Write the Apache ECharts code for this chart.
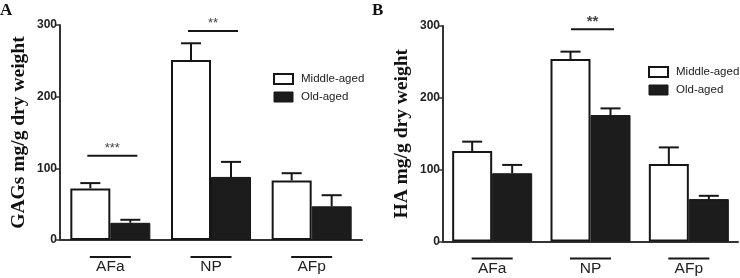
<!DOCTYPE html>
<html><head><meta charset="utf-8">
<script src="https://cdn.jsdelivr.net/npm/echarts@6/dist/echarts.min.js"></script>
<style>html,body{margin:0;padding:0;background:#fff}#c{width:740px;height:278px}</style>
</head><body><div id="c"></div>
<script>
const categories = ['AFa', 'NP', 'AFp'];
const seriesNames = ['Middle-aged', 'Old-aged'];
const yTicks = [0, 100, 200, 300];
// Panel A: GAGs
const gagMiddle = [72, 251, 83];
const gagMiddleSem = [7.4, 23.5, 10.2];
const gagOld = [24, 88, 47];
const gagOldSem = [4.2, 21, 15.5];
const gagSig = [[0, 117.5, '***'], [1, 291.5, '**']];
// Panel B: HA
const haMiddle = [126, 254, 108];
const haMiddleSem = [13, 10.3, 23];
const haOld = [95, 176, 59];
const haOldSem = [11.6, 9.3, 4.6];
const haSig = [[1, 295.5, '**']];

const ink = '#161616';
const chart = echarts.init(document.getElementById('c'));

function errRender(offset) {
  return function (params, api) {
    const b = api.coord([api.value(0), api.value(1)]);
    const t = api.coord([api.value(0), api.value(1) + api.value(2)]);
    const cx = b[0] + offset;
    return {
      type: 'group', children: [
        { type: 'line', shape: { x1: cx, y1: b[1], x2: cx, y2: t[1] }, style: { stroke: ink, lineWidth: 2 } },
        { type: 'line', shape: { x1: cx - 10, y1: t[1], x2: cx + 10, y2: t[1] }, style: { stroke: ink, lineWidth: 2 } }
      ]
    };
  };
}
function sigRender(half, font, gap) {
  return function (params, api) {
    const p = api.coord([api.value(0), api.value(1)]);
    const cx = p[0] + 2;
    return {
      type: 'group', children: [
        { type: 'line', shape: { x1: cx - half, y1: p[1], x2: cx + half, y2: p[1] }, style: { stroke: ink, lineWidth: 2 } },
        { type: 'text', style: { text: api.value(2), x: cx, y: p[1] - gap, align: 'center', verticalAlign: 'bottom', font: font, fill: '#444' } }
      ]
    };
  };
}
const errData = (m, s) => m.map((v, i) => [i, v, s[i]]);

function yAxis(idx, name, size) {
  return {
    gridIndex: idx, type: 'value', min: 0, max: 300, interval: 100,
    name: name, nameLocation: 'middle', nameRotate: 90, nameGap: 31,
    nameTextStyle: { fontFamily: 'Liberation Serif', fontWeight: 'bold', fontSize: size, color: '#111' },
    axisLine: { show: true, lineStyle: { color: '#333', width: 2 } },
    axisTick: { show: true, length: 4, lineStyle: { color: '#333', width: 1.5 } },
    axisLabel: { margin: 3, fontFamily: 'Liberation Sans', fontWeight: 'bold', fontSize: 12, color: '#222',
      formatter: v => yTicks.includes(v) ? String(v) : '' },
    splitLine: { show: false }
  };
}
function xAxis(idx) {
  return {
    gridIndex: idx, type: 'category', data: categories,
    axisLine: { lineStyle: { color: '#333', width: 2 } },
    axisTick: { show: false },
    axisLabel: {
      margin: 16, interval: 0,
      formatter: n => '{l| }\n{t|' + n + '}',
      rich: {
        l: { width: 41, height: 2, lineHeight: 2, backgroundColor: ink, fontSize: 1 },
        t: { fontFamily: 'Liberation Sans', fontSize: 15.5, color: '#222', lineHeight: 18, padding: [0, 0, 0, 0] }
      }
    }
  };
}
function bars(idx, mid, old) {
  return [
    { name: seriesNames[0], type: 'bar', xAxisIndex: idx, yAxisIndex: idx, data: mid, barWidth: 40, barGap: '0%',
      itemStyle: { color: '#fff', borderColor: ink, borderWidth: 2 } },
    { name: seriesNames[1], type: 'bar', xAxisIndex: idx, yAxisIndex: idx, data: old, barWidth: 40, barGap: '0%',
      itemStyle: { color: '#1c1c1c', borderColor: ink, borderWidth: 1 } }
  ];
}
function errs(idx, mid, midS, old, oldS) {
  return [
    { type: 'custom', xAxisIndex: idx, yAxisIndex: idx, renderItem: errRender(-20), data: errData(mid, midS), z: 3, silent: true },
    { type: 'custom', xAxisIndex: idx, yAxisIndex: idx, renderItem: errRender(20), data: errData(old, oldS), z: 3, silent: true }
  ];
}
const legendData = [
  { name: seriesNames[0], itemStyle: { color: '#fff', borderColor: ink, borderWidth: 2 } },
  { name: seriesNames[1], itemStyle: { color: '#1c1c1c', borderColor: ink, borderWidth: 1 } }
];
function legend(left, top, fs) {
  return {
    left: left, top: top, padding: 0, orient: 'vertical', itemWidth: 19, itemHeight: 10, itemGap: 6,
    icon: 'rect', data: legendData, selectedMode: false,
    textStyle: { fontFamily: 'Liberation Sans', fontSize: fs, color: '#222', padding: [0, 0, 0, 3] }
  };
}
const titleStyle = { fontFamily: 'Liberation Serif', fontWeight: 'bold', fontSize: 17, color: '#111' };

chart.setOption({
  animation: false,
  title: [
    { text: 'A', left: 0, top: 2, padding: 0, textStyle: titleStyle },
    { text: 'B', left: 372, top: 2, padding: 0, textStyle: titleStyle }
  ],
  legend: [legend(273, 73, 11.5), legend(648, 66, 11.5)],
  grid: [
    { left: 60, top: 25, width: 302, height: 215 },
    { left: 443, top: 26, width: 295, height: 215.5 }
  ],
  xAxis: [xAxis(0), xAxis(1)],
  yAxis: [yAxis(0, 'GAGs mg/g dry weight', 19.5), yAxis(1, 'HA mg/g dry weight', 19.5)],
  series: [
    ...bars(0, gagMiddle, gagOld),
    ...bars(1, haMiddle, haOld),
    ...errs(0, gagMiddle, gagMiddleSem, gagOld, gagOldSem),
    ...errs(1, haMiddle, haMiddleSem, haOld, haOldSem),
    { type: 'custom', xAxisIndex: 0, yAxisIndex: 0, renderItem: sigRender(25, '13px Liberation Sans', 1), data: gagSig, z: 3, silent: true },
    { type: 'custom', xAxisIndex: 1, yAxisIndex: 1, renderItem: sigRender(21.5, 'bold 15px Liberation Sans', 0), data: haSig, z: 3, silent: true }
  ]
});
</script></body></html>
